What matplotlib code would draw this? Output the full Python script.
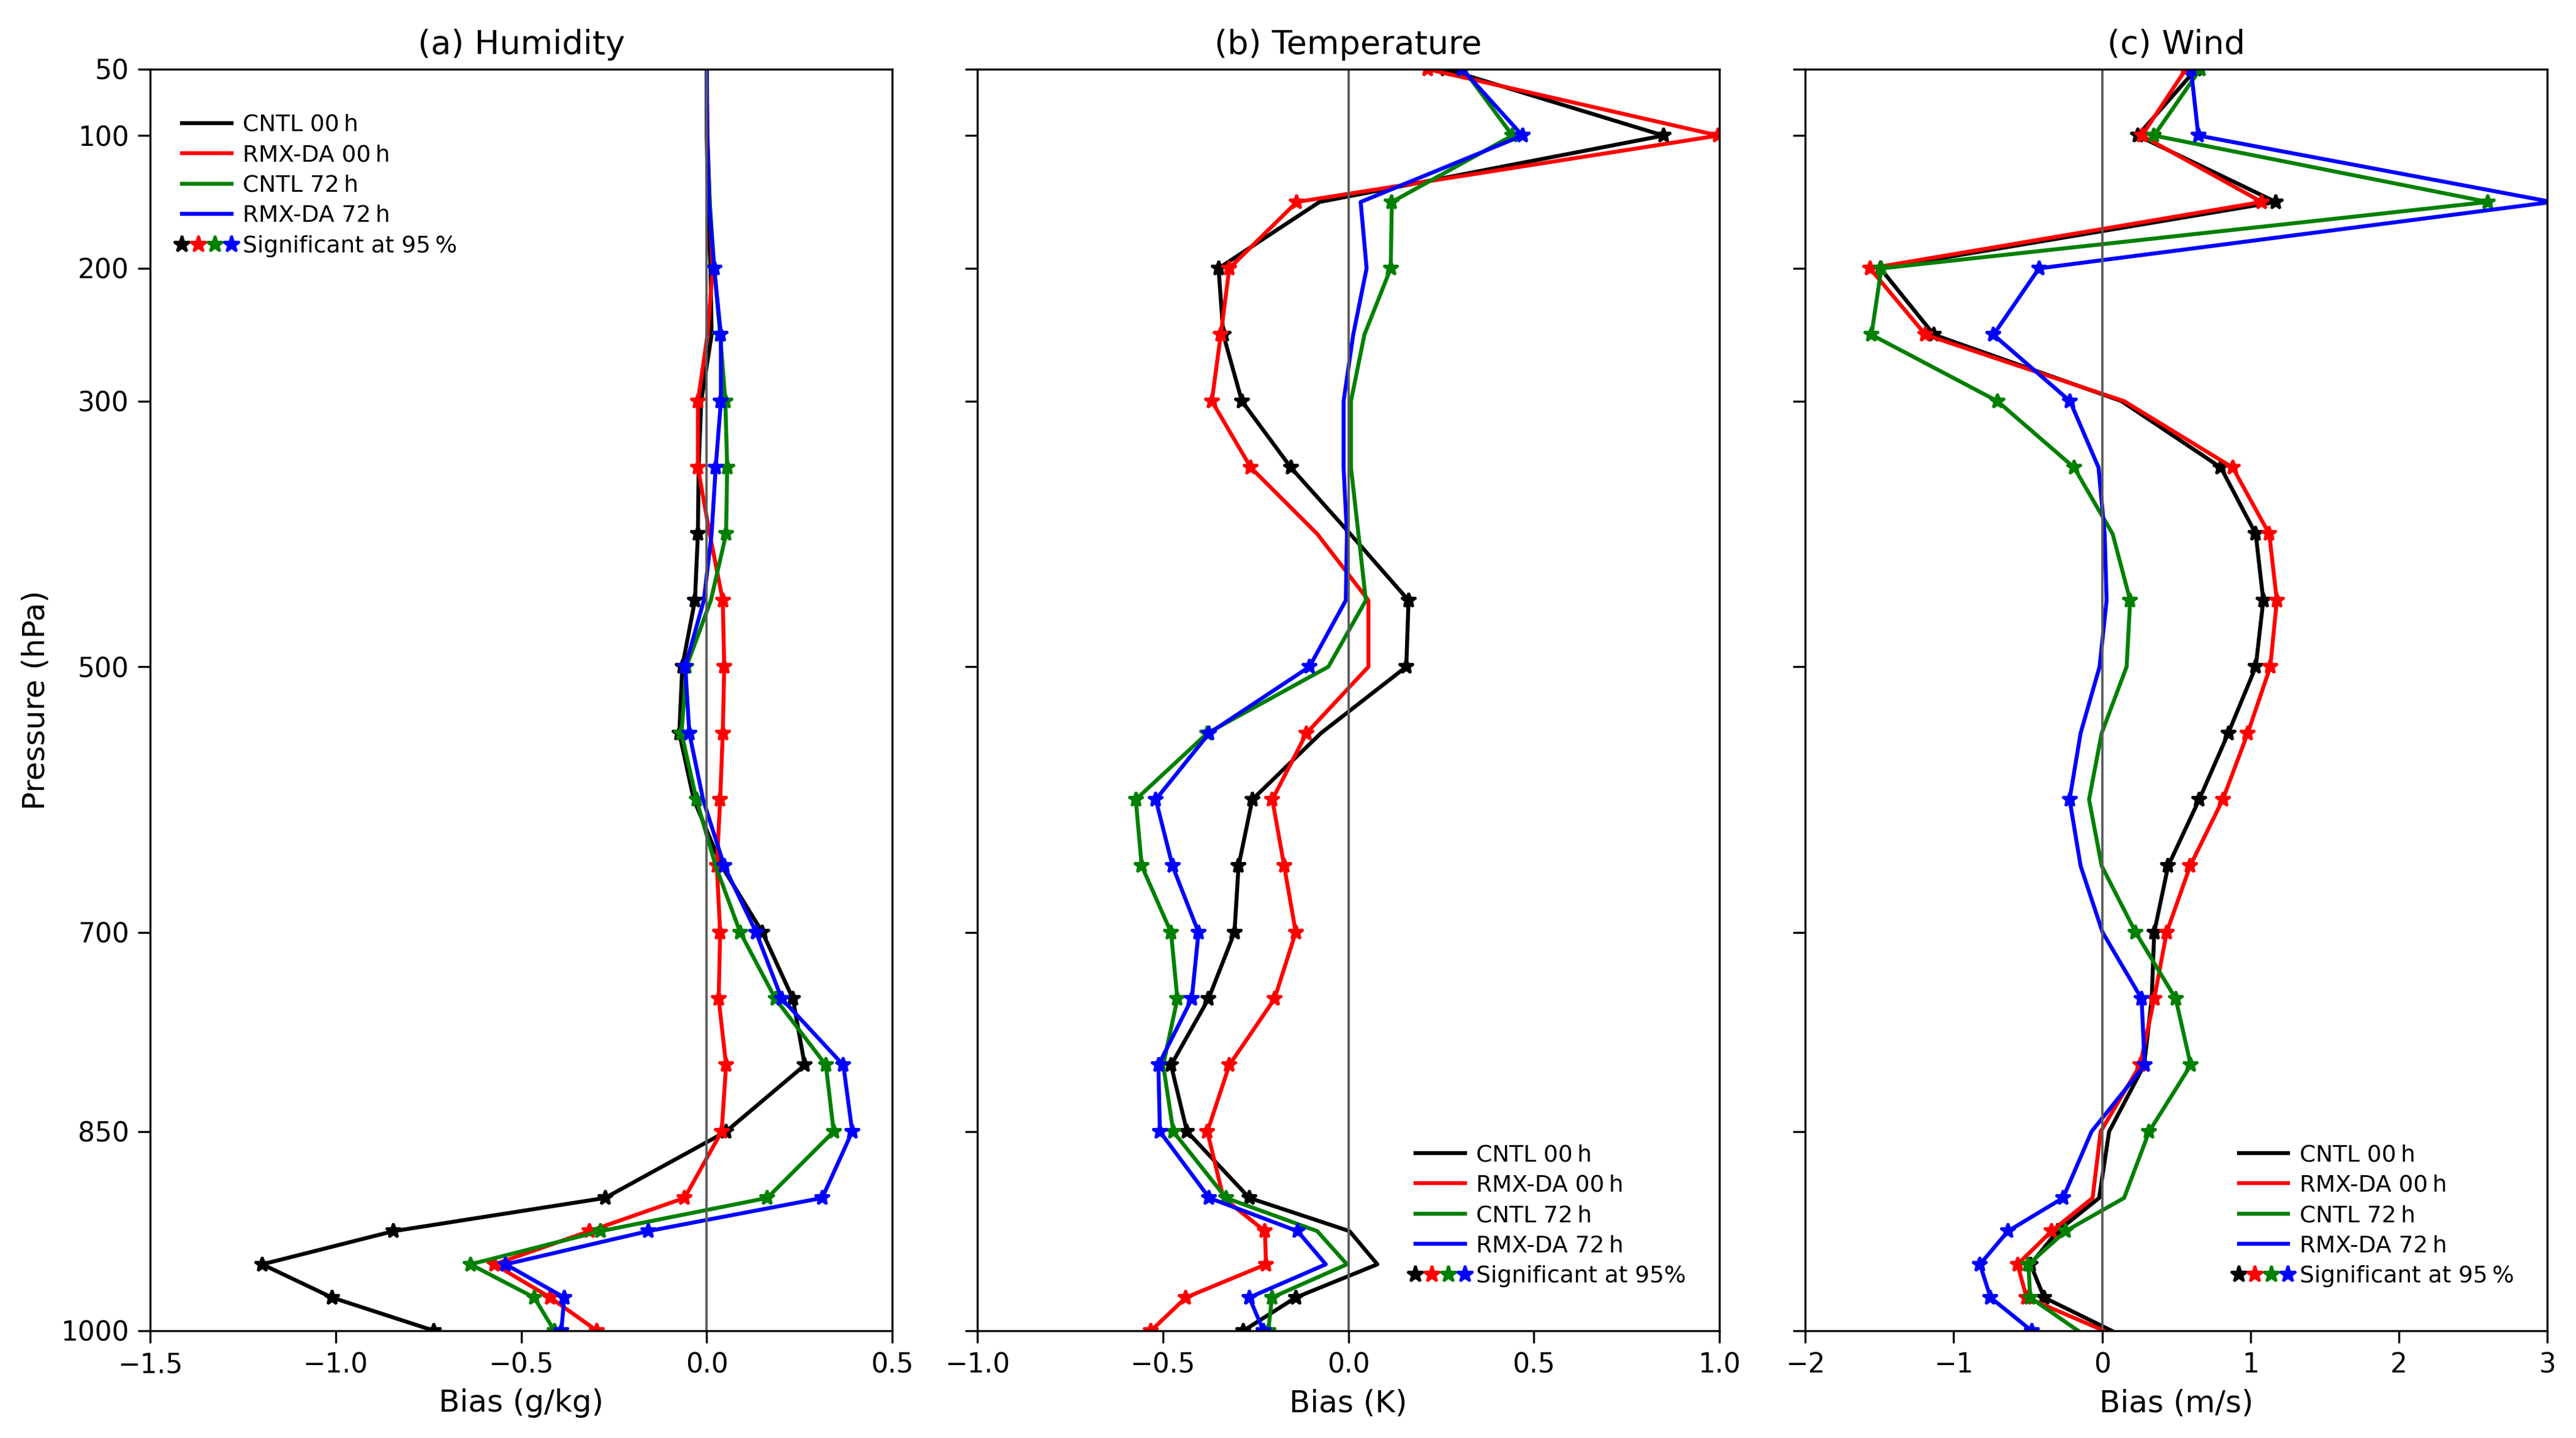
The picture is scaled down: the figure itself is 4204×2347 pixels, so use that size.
import numpy as np
import matplotlib
matplotlib.use("Agg")
import matplotlib.pyplot as plt
from matplotlib.lines import Line2D
from matplotlib.legend_handler import HandlerBase

# pressure levels (hPa)
levels = [50, 100, 150, 200, 250, 300, 350, 400, 450, 500, 550, 600, 650,
          700, 750, 800, 850, 900, 925, 950, 975, 1000]

# (a) humidity bias (g/kg)
hum_cntl00 = [0.0, 0.0, 0.003, 0.01, 0.013, -0.015, -0.022, -0.024, -0.032, -0.066, -0.074,
              -0.035, 0.04, 0.15, 0.232, 0.264, 0.052, -0.274, -0.844, -1.198, -1.01, -0.735]
hum_rmx00 = [0.0, 0.002, 0.008, 0.016, 0.002, -0.024, -0.024, 0.008, 0.043, 0.047, 0.043,
             0.036, 0.027, 0.036, 0.032, 0.052, 0.04, -0.06, -0.316, -0.572, -0.422, -0.296]
hum_cntl72 = [0.0, 0.001, 0.008, 0.02, 0.036, 0.05, 0.055, 0.052, 0.011, -0.055, -0.068,
              -0.028, 0.024, 0.09, 0.185, 0.321, 0.342, 0.163, -0.286, -0.637, -0.465, -0.411]
hum_rmx72 = [0.0, 0.001, 0.006, 0.02, 0.038, 0.038, 0.024, 0.013, -0.008, -0.058, -0.047,
             -0.01, 0.047, 0.133, 0.202, 0.368, 0.392, 0.311, -0.158, -0.542, -0.384, -0.392]
hum_sig_cntl00 = [400, 450, 500, 550, 700, 750, 800, 850, 900, 925, 950, 975, 1000]
hum_sig_rmx00 = [300, 350, 450, 500, 550, 600, 650, 700, 750, 800, 850, 900, 925, 950, 975, 1000]
hum_sig_cntl72 = [250, 300, 350, 400, 500, 550, 600, 700, 750, 800, 850, 900, 925, 950, 975, 1000]
hum_sig_rmx72 = [200, 250, 300, 350, 500, 550, 650, 700, 750, 800, 850, 900, 925, 950, 975, 1000]

# (b) temperature bias (K)
tmp_cntl00 = [0.263, 0.849, -0.078, -0.35, -0.337, -0.287, -0.155, 0.005, 0.162, 0.156, -0.074,
              -0.259, -0.296, -0.307, -0.377, -0.478, -0.435, -0.267, 0.003, 0.078, -0.142, -0.283]
tmp_rmx00 = [0.213, 0.997, -0.139, -0.321, -0.344, -0.368, -0.263, -0.084, 0.054, 0.054, -0.113,
             -0.205, -0.173, -0.142, -0.199, -0.321, -0.38, -0.337, -0.225, -0.222, -0.438, -0.532]
tmp_cntl72 = [0.31, 0.442, 0.117, 0.114, 0.043, 0.007, 0.007, 0.027, 0.047, -0.054, -0.38,
              -0.573, -0.557, -0.478, -0.461, -0.499, -0.472, -0.33, -0.084, -0.004, -0.206, -0.216]
tmp_rmx72 = [0.307, 0.469, 0.033, 0.049, 0.013, -0.013, -0.013, -0.004, -0.007, -0.105, -0.375,
             -0.519, -0.474, -0.404, -0.422, -0.512, -0.508, -0.375, -0.137, -0.061, -0.267, -0.229]
tmp_sig_cntl00 = [50, 100, 200, 250, 300, 350, 450, 500, 600, 650, 700, 750, 800, 850, 900, 975, 1000]
tmp_sig_rmx00 = [50, 100, 150, 200, 250, 300, 350, 550, 600, 650, 700, 750, 800, 850, 925, 950, 975, 1000]
tmp_sig_cntl72 = [50, 100, 150, 200, 550, 600, 650, 700, 750, 850, 900, 975, 1000]
tmp_sig_rmx72 = [50, 100, 500, 550, 600, 650, 700, 750, 800, 850, 900, 925, 975, 1000]

# (c) wind bias (m/s)
wnd_cntl00 = [0.633, 0.24, 1.17, -1.494, -1.133, 0.131, 0.8, 1.035, 1.086, 1.035, 0.85,
              0.654, 0.445, 0.351, 0.334, 0.283, 0.047, -0.02, -0.3, -0.482, -0.391, 0.064]
wnd_rmx00 = [0.564, 0.268, 1.076, -1.564, -1.19, 0.148, 0.88, 1.126, 1.177, 1.133, 0.981,
             0.813, 0.593, 0.435, 0.351, 0.256, -0.01, -0.064, -0.34, -0.57, -0.509, 0.013]
wnd_cntl72 = [0.661, 0.35, 2.6, -1.487, -1.554, -0.705, -0.189, 0.071, 0.189, 0.165, -0.003,
              -0.088, -0.003, 0.226, 0.496, 0.597, 0.317, 0.148, -0.246, -0.496, -0.485, -0.162]
wnd_rmx72 = [0.599, 0.648, 3.03, -0.425, -0.732, -0.216, -0.024, 0.017, 0.03, -0.017, -0.145,
             -0.219, -0.145, 0.003, 0.266, 0.287, -0.071, -0.263, -0.634, -0.823, -0.752, -0.475]
wnd_sig_cntl00 = [50, 100, 150, 200, 250, 350, 400, 450, 500, 550, 600, 650, 700, 925, 950, 975]
wnd_sig_rmx00 = [50, 100, 150, 200, 250, 350, 400, 450, 500, 550, 600, 650, 700, 750, 800, 925, 950, 975]
wnd_sig_cntl72 = [50, 100, 150, 200, 250, 300, 350, 450, 700, 750, 800, 850, 925, 950, 975]
wnd_sig_rmx72 = [50, 100, 200, 250, 300, 600, 750, 800, 900, 925, 950, 975, 1000]

names = ["CNTL 00\u2009h", "RMX-DA 00\u2009h", "CNTL 72\u2009h", "RMX-DA 72\u2009h"]
colors = ["black", "red", "green", "blue"]


class FourStarsHandler(HandlerBase):
    # four coloured stars spread over the handle width
    def create_artists(self, legend, orig_handle, xdescent, ydescent,
                       width, height, fontsize, trans):
        xs = np.linspace(-xdescent, -xdescent + width, 4)
        y = -ydescent + height / 2
        arts = []
        for x, c in zip(xs, colors):
            arts.append(Line2D([x], [y], marker="*", ms=6.5, color=c,
                               ls="none", transform=trans))
        return arts


panels = [
    ("(a) Humidity", "Bias (g/kg)", (-1.5, 0.5), [-1.5, -1.0, -0.5, 0.0, 0.5],
     [hum_cntl00, hum_rmx00, hum_cntl72, hum_rmx72],
     [hum_sig_cntl00, hum_sig_rmx00, hum_sig_cntl72, hum_sig_rmx72],
     "upper left", (0.015, 0.981), "Significant at 95\u2009%"),
    ("(b) Temperature", "Bias (K)", (-1.0, 1.0), [-1.0, -0.5, 0.0, 0.5, 1.0],
     [tmp_cntl00, tmp_rmx00, tmp_cntl72, tmp_rmx72],
     [tmp_sig_cntl00, tmp_sig_rmx00, tmp_sig_cntl72, tmp_sig_rmx72],
     "lower right", (0.983, 0.018), "Significant at 95%"),
    ("(c) Wind", "Bias (m/s)", (-2, 3), [-2, -1, 0, 1, 2, 3],
     [wnd_cntl00, wnd_rmx00, wnd_cntl72, wnd_rmx72],
     [wnd_sig_cntl00, wnd_sig_rmx00, wnd_sig_cntl72, wnd_sig_rmx72],
     "lower right", (0.983, 0.018), "Significant at 95\u2009%"),
]

fig = plt.figure(figsize=(4204 / 300, 2347 / 300), dpi=300)
lefts = [0.0583, 0.3794, 0.7008]

for i, (title, xlabel, xlim, xticks, series, sigs, loc, anchor, sig_label) in enumerate(panels):
    ax = fig.add_axes([lefts[i], 0.0746, 0.2881, 0.8773])
    for vals, sig, c in zip(series, sigs, colors):
        mask = [lev in sig for lev in levels]
        ax.plot(vals, levels, color=c, lw=1.55, marker="*", ms=6, markevery=mask)
    ax.axvline(0, color="#5a5a5a", lw=0.9)

    ax.set_xlim(*xlim)
    ax.set_xticks(xticks)
    ax.set_ylim(1000, 50)
    ax.set_yticks([50, 100, 200, 300, 500, 700, 850, 1000])
    if i > 0:
        ax.set_yticklabels([])
    else:
        ax.set_ylabel("Pressure (hPa)", fontsize=12)
    ax.tick_params(labelsize=10.5, length=4.8)
    ax.set_xlabel(xlabel, fontsize=12)
    ax.set_title(title, fontsize=13)

    handles = [Line2D([], [], color=c, lw=1.55) for c in colors] + [object()]
    ax.legend(handles, names + [sig_label], loc=loc, bbox_to_anchor=anchor,
              frameon=False, fontsize=9, labelspacing=0.36, handlelength=2.15,
              handletextpad=0.5, handler_map={object: FourStarsHandler()})

fig.savefig("out.png", dpi=300)
